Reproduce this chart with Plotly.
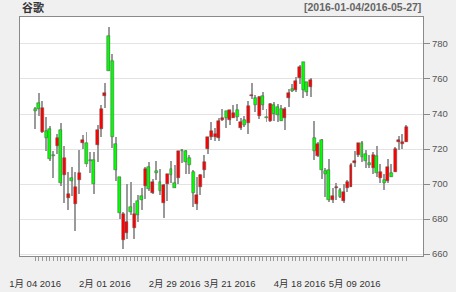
import plotly.graph_objects as go

dates = [
    "2016-01-04","2016-01-05","2016-01-06","2016-01-07","2016-01-08","2016-01-11","2016-01-12","2016-01-13","2016-01-14","2016-01-15",
    "2016-01-19","2016-01-20","2016-01-21","2016-01-22","2016-01-25","2016-01-26","2016-01-27","2016-01-28","2016-01-29",
    "2016-02-01","2016-02-02","2016-02-03","2016-02-04","2016-02-05","2016-02-08","2016-02-09","2016-02-10","2016-02-11","2016-02-12",
    "2016-02-16","2016-02-17","2016-02-18","2016-02-19","2016-02-22","2016-02-23","2016-02-24","2016-02-25","2016-02-26",
    "2016-02-29","2016-03-01","2016-03-02","2016-03-03","2016-03-04","2016-03-07","2016-03-08","2016-03-09","2016-03-10","2016-03-11",
    "2016-03-14","2016-03-15","2016-03-16","2016-03-17","2016-03-18","2016-03-21","2016-03-22","2016-03-23","2016-03-24",
    "2016-03-28","2016-03-29","2016-03-30","2016-03-31","2016-04-01","2016-04-04","2016-04-05","2016-04-06","2016-04-07","2016-04-08",
    "2016-04-11","2016-04-12","2016-04-13","2016-04-14","2016-04-15","2016-04-18","2016-04-19","2016-04-20","2016-04-21","2016-04-22",
    "2016-04-25","2016-04-26","2016-04-27","2016-04-28","2016-04-29","2016-05-02","2016-05-03","2016-05-04","2016-05-05","2016-05-06",
    "2016-05-09","2016-05-10","2016-05-11","2016-05-12","2016-05-13","2016-05-16","2016-05-17","2016-05-18","2016-05-19","2016-05-20",
    "2016-05-23","2016-05-24","2016-05-25","2016-05-26","2016-05-27",
]
opens = [
    743.00,746.45,730.00,730.31,731.45,716.61,721.68,730.85,705.38,692.29,
    703.30,688.61,702.18,723.60,723.58,713.85,713.67,722.22,731.53,
    750.46,784.50,770.22,722.81,703.87,667.85,672.32,686.86,675.00,690.26,
    692.98,699.00,710.00,695.03,707.45,701.45,688.92,700.01,708.58,
    700.32,703.62,719.00,718.68,714.99,706.90,688.59,698.47,708.12,720.00,
    726.81,726.92,726.37,736.45,741.86,736.50,737.46,742.36,732.01,
    736.79,734.59,750.10,749.25,738.60,750.06,738.00,735.77,745.37,743.97,
    743.02,738.00,749.16,754.01,753.98,760.46,769.51,758.00,755.38,726.30,
    716.10,725.42,707.29,708.26,690.70,697.63,696.87,690.49,697.70,698.38,
    712.00,716.75,723.41,717.06,711.93,709.13,715.99,703.67,702.36,701.62,
    706.53,706.86,724.01,722.87,724.01,
]
highs = [
    744.06,752.00,747.18,738.50,733.23,718.86,728.75,734.74,721.93,706.74,
    709.98,706.85,719.19,728.13,729.68,718.28,718.24,733.69,744.99,
    757.86,789.87,774.50,727.00,703.99,684.03,699.90,701.31,689.35,693.75,
    698.00,709.75,712.35,703.08,713.24,708.40,700.00,705.98,713.43,
    710.89,718.81,720.00,719.45,716.49,708.09,703.79,705.68,716.44,726.92,
    735.50,732.29,737.47,743.07,742.00,742.50,745.00,745.72,737.75,
    738.99,747.25,757.88,750.85,750.34,752.80,742.80,746.24,747.00,745.45,
    745.00,743.83,754.38,757.31,761.00,768.05,769.90,758.13,760.45,736.12,
    723.93,725.77,708.98,714.17,697.62,700.64,697.84,699.75,702.32,711.86,
    718.71,723.50,724.48,719.25,716.66,718.48,721.52,711.60,706.00,714.58,
    711.48,720.97,727.48,728.33,733.94,
]
lows = [
    731.26,738.64,728.92,719.06,713.00,703.54,717.32,698.61,689.10,685.37,
    693.41,673.26,694.46,720.12,710.01,706.48,694.39,712.35,726.80,
    743.27,764.65,720.50,701.86,680.15,663.06,668.77,682.13,668.87,678.60,
    685.05,691.38,696.03,694.05,702.51,693.58,680.78,690.58,700.86,
    697.68,699.77,712.00,706.02,706.02,686.90,685.34,694.00,703.36,717.13,
    725.15,724.77,724.51,736.00,731.83,733.52,737.46,736.15,731.00,
    732.50,728.76,748.74,740.94,737.00,742.43,735.37,735.56,736.28,735.55,
    736.05,731.01,744.26,752.70,752.69,757.30,749.33,750.01,749.55,713.61,
    715.59,703.03,692.36,689.55,689.00,691.00,692.00,689.01,695.72,698.11,
    710.00,715.72,712.80,709.00,709.26,705.65,704.11,700.63,696.80,700.52,
    704.18,706.86,719.70,720.28,724.00,
]
closes = [
    741.84,742.58,743.62,726.39,714.47,716.03,726.07,700.56,714.72,694.45,
    701.79,698.45,706.59,725.25,711.67,713.04,699.99,730.96,742.95,
    752.00,764.65,726.95,708.01,683.57,682.74,678.11,684.12,683.11,682.40,
    691.00,708.40,697.35,700.91,706.46,695.85,699.56,705.75,705.07,
    697.77,718.81,718.85,712.42,710.89,695.16,693.97,705.24,712.82,726.82,
    730.49,728.33,736.09,737.78,737.60,742.09,740.75,738.06,735.30,
    733.53,744.77,750.53,744.95,749.91,745.29,737.80,745.69,740.28,739.15,
    736.10,743.09,751.72,753.20,759.00,766.61,753.93,752.67,759.14,718.77,
    723.15,708.14,705.84,691.02,693.01,698.21,692.36,695.70,701.43,711.12,
    712.90,723.18,715.29,713.31,710.83,716.49,706.23,706.63,700.32,709.74,
    704.24,720.09,725.27,724.12,732.66,
]
label_dates = ["2016-01-04", "2016-02-01", "2016-02-29", "2016-03-21", "2016-04-18", "2016-05-09"]
label_texts = ["1月 04 2016", "2月 01 2016", "2月 29 2016", "3月 21 2016", "4月 18 2016", "5月 09 2016"]
title_text = "谷歌"
range_text = "[2016-01-04/2016-05-27]"

n = len(dates)
idx = list(range(n))
UP = "#FF0000"
DOWN = "#00FF00"

bases = [min(o, c) for o, c in zip(opens, closes)]
heights = [max(abs(c - o), 0.5) for o, c in zip(opens, closes)]
colors = [UP if c > o else DOWN for o, c in zip(opens, closes)]
wick_h = [h - l for h, l in zip(highs, lows)]

fig = go.Figure()
# wicks (thin bars from low to high)
fig.add_trace(go.Bar(x=idx, y=wick_h, base=lows, width=0.27,
                     marker=dict(color="#9a9a9a", line=dict(width=0)),
                     hoverinfo="skip", showlegend=False))
# bodies
fig.add_trace(go.Bar(x=idx, y=heights, base=bases, width=0.8,
                     marker=dict(color=colors, line=dict(color="#555555", width=0.5)),
                     showlegend=False))

tickvals = idx
ticktext = [""] * n
for d, t in zip(label_dates, label_texts):
    ticktext[dates.index(d)] = t

font_main = "Liberation Sans, Arial, Noto Sans CJK SC, sans-serif"

fig.update_layout(
    width=456, height=292,
    margin=dict(l=20, r=33, t=17, b=36),
    paper_bgcolor="#F0F0F0",
    plot_bgcolor="#FFFFFF",
    barmode="overlay",
    bargap=0,
    showlegend=False,
    font=dict(family=font_main, size=9.5, color="#333333"),
    xaxis=dict(
        range=[-4.1, 105.6],
        automargin=False,
        tickmode="array", tickvals=tickvals, ticktext=ticktext,
        ticks="outside", ticklen=4, tickcolor="#999999", tickwidth=1,
        ticklabelstandoff=15,
        tickfont=dict(size=9.5, color="#333333", family="Liberation Sans, Noto Sans CJK SC, sans-serif"),
        showgrid=False, zeroline=False,
        showline=True, linecolor="#8a8a8a", linewidth=1, mirror=True,
    ),
    yaxis=dict(
        side="right",
        automargin=False,
        range=[658.9, 795.4],
        tickvals=[660, 680, 700, 720, 740, 760, 780],
        ticks="outside", ticklen=6, tickcolor="#8a8a8a",
        tickfont=dict(size=9.5, color="#555555"),
        showgrid=True, gridcolor="#E3E3E3", gridwidth=1,
        zeroline=False,
        showline=True, linecolor="#8a8a8a", linewidth=1, mirror=True,
    ),
    annotations=[
        dict(text="<b>" + title_text + "</b>", xref="paper", yref="paper", x=0, y=1,
             xanchor="left", yanchor="middle", yshift=10, showarrow=False,
             font=dict(size=11, color="#333333", family="Noto Sans CJK SC, sans-serif")),
        dict(text="<b>" + range_text + "</b>", xref="paper", yref="paper", x=1, y=1,
             xanchor="right", yanchor="middle", yshift=10, showarrow=False,
             font=dict(size=10.5, color="#666666", family="Liberation Sans, Arial, sans-serif")),
    ],
)

fig.write_html("out.html")
